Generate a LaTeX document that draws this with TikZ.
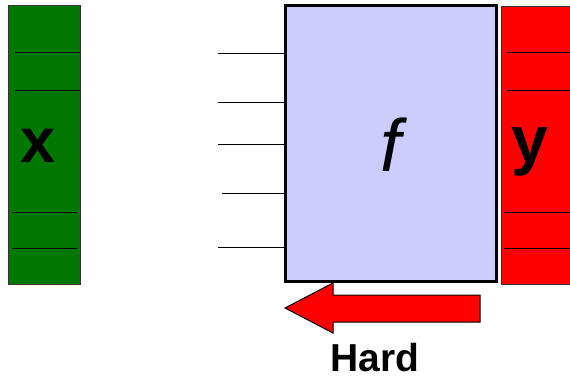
\documentclass[tikz,border=0pt]{standalone}
\usepackage{fontspec}
\setmainfont{Liberation Sans}
\definecolor{vecgreen}{RGB}{0,120,0}
\definecolor{fblue}{RGB}{204,204,255}
\definecolor{vecred}{RGB}{255,0,0}
\begin{document}
\begin{tikzpicture}[x=1pt,y=-1pt,
  vecbox/.style={draw=black!80, line width=1pt},
  stripe/.style={line width=1pt},
  funbox/.style={draw, line width=3pt, fill=fblue},
  hardarrow/.style={draw, line width=1pt, fill=vecred}]
\useasboundingbox (0,0) rectangle (570,377);
% input vector
\filldraw[vecbox, fill=vecgreen] (8,6) rectangle (80,284);
\coordinate (xa) at (15,53);
\coordinate (xb) at (15,91);
\coordinate (xc) at (12,212);
\coordinate (xd) at (12,248);
\draw[stripe] (xa) -- (80,53);
\draw[stripe] (xb) -- (80,91);
\draw[stripe] (xc) -- (77,212);
\draw[stripe] (xd) -- (77,248);
\node[anchor=base, font=\fontsize{63}{63}\selectfont\bfseries] (xlab) at (38,162) {x};
% the function
\node[funbox, minimum width=211pt, minimum height=275pt, inner sep=0pt] (fbox) at (391,143.5) {};
\node[anchor=base, font=\fontsize{74}{74}\selectfont\itshape] (flab) at (fbox.center |- 0,171) {f};
\foreach \yy/\xx [count=\i] in {54/218, 103/218, 145/218, 193/222, 247/218} {
  \coordinate (in\i) at (\xx,\yy);
  \draw[stripe] (in\i) -- (in\i -| fbox.west);
}
% output vector
\filldraw[vecbox, fill=vecred] (501,7) rectangle (575,284);
\coordinate (ya) at (507,53);
\coordinate (yb) at (507,91);
\coordinate (yc) at (504,212);
\coordinate (yd) at (504,248);
\draw[stripe] (ya) -- (575,53);
\draw[stripe] (yb) -- (575,91);
\draw[stripe] (yc) -- (575,212);
\draw[stripe] (yd) -- (575,248);
\node[anchor=base, font=\fontsize{66}{66}\selectfont\bfseries] (ylab) at (530,162) {y};
% direction
\draw[hardarrow] (480,295) -- (333,295) -- (333,283) -- (285,308) -- (333,333) -- (333,322) -- (480,322) -- cycle;
\node[anchor=base, inner sep=0pt, font=\fontsize{39}{39}\selectfont\bfseries] (hard) at (375,371) {Hard};
\end{tikzpicture}
\end{document}
